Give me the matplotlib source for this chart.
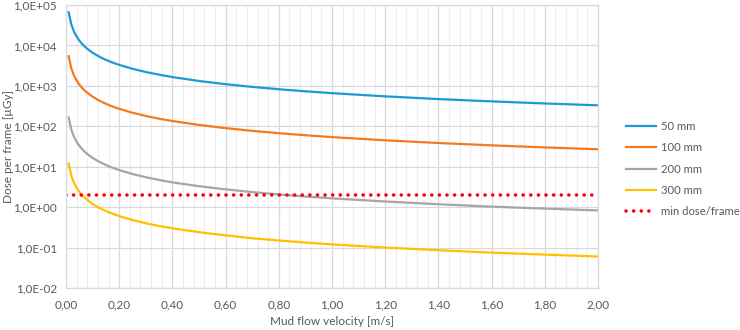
import matplotlib
matplotlib.use("Agg")
import matplotlib.pyplot as plt
from matplotlib.ticker import FixedLocator, FuncFormatter, MultipleLocator

plt.rcParams['font.family'] = ['Lato', 'DejaVu Sans']

# velocity [m/s]
velocity = [0.01, 0.02, 0.03, 0.04, 0.05, 0.06, 0.07, 0.08, 0.10, 0.12, 0.14, 0.16,
            0.18, 0.20, 0.25, 0.30, 0.35, 0.40, 0.50, 0.60, 0.70, 0.80, 0.90, 1.00,
            1.20, 1.40, 1.60, 1.80, 2.00]

# dose per frame [uGy]
dose_50 = [66000, 33000, 22000, 16500, 13200, 11000, 9430, 8250, 6600, 5500, 4710, 4130,
           3670, 3300, 2640, 2200, 1890, 1650, 1320, 1100, 943, 825, 733, 660,
           550, 471, 413, 367, 330]
dose_100 = [5400, 2700, 1800, 1350, 1080, 900, 771, 675, 540, 450, 386, 338,
            300, 270, 216, 180, 154, 135, 108, 90, 77, 67.5, 60, 54,
            45, 38.6, 33.8, 30, 27]
dose_200 = [165, 82.5, 55, 41, 33, 27.5, 23.6, 20.6, 16.5, 13.8, 11.8, 10.3,
            9.2, 8.25, 6.6, 5.5, 4.7, 4.1, 3.3, 2.75, 2.36, 2.06, 1.83, 1.65,
            1.38, 1.18, 1.03, 0.92, 0.83]
dose_300 = [12, 6, 4, 3, 2.4, 2.0, 1.71, 1.5, 1.2, 1.0, 0.86, 0.75,
            0.67, 0.6, 0.48, 0.4, 0.34, 0.3, 0.24, 0.2, 0.17, 0.15, 0.133, 0.12,
            0.1, 0.086, 0.075, 0.067, 0.06]
min_dose = 2.0

series = [("50 mm", dose_50, "#1C9AD6"),
          ("100 mm", dose_100, "#F47A20"),
          ("200 mm", dose_200, "#A5A5A5"),
          ("300 mm", dose_300, "#FFC000")]

txt = "#595959"
grid_major = "#D9D9D9"
grid_minor = "#EDEDED"

fig = plt.figure(figsize=(7.4, 3.3), dpi=100)
ax = fig.add_axes([66/740, 1-288/330, (598-66)/740, (288-5)/330])

for name, vals, col in series:
    ax.plot(velocity, vals, color=col, lw=1.6, label=name)
ax.plot([0, 2.0], [min_dose, min_dose], color="#FF0000", lw=2.6,
        linestyle=(0, (0.01, 2.1)), dash_capstyle='round', label="min dose/frame")

ax.set_yscale("log")
ax.set_ylim(1e-2, 1e5)
ax.set_xlim(0, 2.0)
ax.yaxis.set_major_locator(FixedLocator([10.0**k for k in range(-2, 6)]))
ax.yaxis.set_minor_locator(FixedLocator([]))
ax.xaxis.set_major_locator(MultipleLocator(0.2))
ax.xaxis.set_minor_locator(MultipleLocator(0.04))

def yfmt(v, pos):
    s = "%.1E" % v
    return s.replace(".", ",")

ax.yaxis.set_major_formatter(FuncFormatter(yfmt))
ax.xaxis.set_major_formatter(FuncFormatter(lambda v, p: ("%.2f" % v).replace(".", ",")))

ax.grid(True, which="major", color=grid_major, lw=0.9)
ax.grid(True, which="minor", axis="x", color=grid_minor, lw=0.8)
ax.set_axisbelow(True)
for sp in ax.spines.values():
    sp.set_color(grid_major)
    sp.set_linewidth(0.9)
ax.tick_params(which="both", length=0, labelsize=8.5, colors=txt)
ax.tick_params(axis="y", pad=6.5)
ax.tick_params(axis="x", pad=8.5)

ax.set_xlabel("Mud flow velocity [m/s]", fontsize=8.5, color=txt)
ax.set_ylabel("Dose per frame [µGy]", fontsize=8.5, color=txt)
ax.yaxis.set_label_coords(-52/532, 0.5)
ax.xaxis.set_label_coords(0.5, -28/283)

leg = ax.legend(loc="center left", bbox_to_anchor=(1.052, 0.42), frameon=False,
                fontsize=8.1, handlelength=2.7, labelspacing=0.92, handletextpad=0.4,
                borderaxespad=0, borderpad=0)
for t in leg.get_texts():
    t.set_color(txt)

fig.savefig("out.png", dpi=100)
